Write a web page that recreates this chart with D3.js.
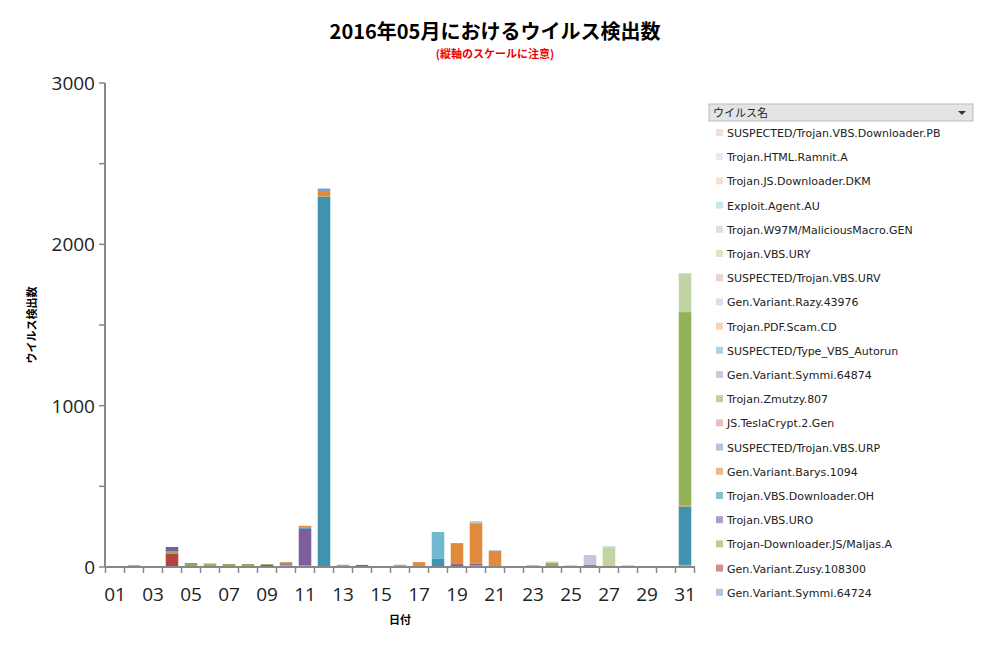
<!DOCTYPE html><html><head><meta charset="utf-8"><script src="https://cdn.jsdelivr.net/npm/d3@7"></script>
<style>body{margin:0;background:#fff;font-family:"Noto Sans CJK JP","DejaVu Sans",sans-serif}</style></head><body><svg id="c" width="987" height="648"></svg>
<script>
const days=["01","02","03","04","05","06","07","08","09","10","11","12","13","14","15","16","17","18","19","20","21","22","23","24","25","26","27","28","29","30","31"];
const dayLabels=["01","03","05","07","09","11","13","15","17","19","21","23","25","27","29","31"];
const yTicks=[0,1000,2000,3000];
// series in stacking order (bottom first)
const seriesNames=["Gen.Variant.Symmi.64724","Gen.Variant.Zusy.108300","Trojan-Downloader.JS/Maljas.A","Trojan.VBS.URO","Trojan.VBS.Downloader.OH","Gen.Variant.Barys.1094","SUSPECTED/Trojan.VBS.URP","JS.TeslaCrypt.2.Gen","Trojan.Zmutzy.807","Gen.Variant.Symmi.64874","SUSPECTED/Type_VBS_Autorun","Trojan.PDF.Scam.CD","Gen.Variant.Razy.43976","SUSPECTED/Trojan.VBS.URV","Trojan.VBS.URY","Trojan.W97M/MaliciousMacro.GEN","Exploit.Agent.AU","Trojan.JS.Downloader.DKM","Trojan.HTML.Ramnit.A","SUSPECTED/Trojan.VBS.Downloader.PB"];
const seriesColors=["#7f9cc4","#b5423f","#8fae52","#7b5e9a","#3f93ae","#e08a3e","#7f9cc4","#d99391","#93b257","#b1a2c6","#72b8d0","#f2b58c","#bccbe0","#e3b3b2","#c3d4a4","#cbc3d9","#a6d3df","#f6c9ab","#d3dcea","#ecc6c6"];
const s_Symmi64724=[0,0,0,6,0,0,0,0,0,0,0,0,0,5,0,8,0,0,0,0,0,0,5,0,0,0,0,0,0,0,0];
const s_Zusy=[0,0,0,75,0,5,0,0,13,8,6,6,0,0,0,0,6,0,6,6,0,0,0,6,0,6,0,0,0,0,8];
const s_Maljas=[0,5,5,18,19,12,19,19,5,6,6,0,12,0,0,6,6,5,0,5,0,0,5,12,0,0,6,6,0,5,5];
const s_URO=[0,0,0,25,0,0,0,0,0,5,225,0,0,8,0,0,0,0,12,10,0,0,0,5,0,0,0,0,0,0,0];
const s_OH=[0,0,0,0,5,0,0,0,0,5,8,2290,0,0,0,0,0,45,0,0,0,0,0,0,8,6,0,0,0,0,362];
const s_Barys=[0,6,0,0,0,5,0,0,0,6,10,35,0,0,0,0,18,0,130,250,99,0,0,0,0,0,0,0,0,0,5];
const s_URP=[0,0,0,0,0,0,0,0,0,0,0,15,0,0,0,0,0,0,0,0,0,0,0,0,0,0,0,0,0,0,0];
const s_Tesla=new Array(31).fill(0);
const s_Zmutzy=[0,0,0,0,0,0,0,0,0,0,0,0,0,0,0,0,0,0,0,0,0,0,0,0,0,0,0,0,0,0,1200];
const s_Symmi64874=[0,0,0,0,0,0,0,0,0,0,0,0,0,0,0,0,0,0,0,6,0,0,0,0,0,0,0,0,0,0,0];
const s_Autorun=[0,0,0,0,0,0,0,0,0,0,0,0,0,0,0,0,0,167,0,0,0,5,0,0,0,0,0,0,0,0,0];
const s_PDF=[0,0,0,0,0,0,0,0,0,0,0,0,0,0,0,0,0,0,0,0,0,0,0,0,0,0,0,5,0,0,0];
const s_Razy=[0,0,0,0,0,0,0,0,0,0,0,0,0,0,0,0,0,0,0,0,6,0,0,0,0,0,0,0,0,0,0];
const s_URV=new Array(31).fill(0);
const s_URY=[0,0,0,0,0,0,0,0,0,0,0,0,3,0,0,0,0,0,0,8,0,0,0,10,0,0,115,0,0,0,240];
const s_W97M=[0,0,0,0,0,0,0,0,0,0,0,0,0,0,0,0,0,0,0,0,0,0,0,0,0,62,0,0,0,0,0];
const s_Exploit=[0,0,0,0,0,0,0,0,0,0,0,0,0,0,0,0,0,0,0,0,0,0,0,0,0,0,7,0,0,0,0];
const s_DKM=[0,0,0,0,0,0,0,0,0,0,0,0,0,0,0,0,0,0,0,0,0,0,0,0,3,0,0,0,0,0,0];
const s_Ramnit=[0,0,0,0,0,0,0,0,0,0,0,0,0,0,0,0,0,0,0,0,0,0,0,0,0,0,0,0,5,0,0];
const s_PB=new Array(31).fill(0);
const seriesValues=[s_Symmi64724,s_Zusy,s_Maljas,s_URO,s_OH,s_Barys,s_URP,s_Tesla,s_Zmutzy,s_Symmi64874,s_Autorun,s_PDF,s_Razy,s_URV,s_URY,s_W97M,s_Exploit,s_DKM,s_Ramnit,s_PB];

const svg=d3.select("#c");
const rows=days.map((d,i)=>{const o={day:d};seriesNames.forEach((n,k)=>o[n]=seriesValues[k][i]);return o;});
const stack=d3.stack().keys(seriesNames)(rows);
const x=d3.scaleBand().domain(days).range([105.5,694.5]).paddingInner(0.34).paddingOuter(0.17);
const y=d3.scaleLinear().domain([0,3000]).range([567,83]);
svg.append("g").selectAll("g").data(stack).join("g").attr("fill",(d,i)=>seriesColors[i])
 .selectAll("rect").data(d=>d).join("rect")
 .attr("x",d=>x(d.data.day)).attr("width",x.bandwidth())
 .attr("y",d=>y(d[1])).attr("height",d=>y(d[0])-y(d[1]));
const ya=svg.append("g").attr("transform","translate(105,0)");
ya.append("line").attr("y1",83).attr("y2",567).attr("stroke","#888").attr("stroke-width",2);
ya.selectAll(".mt").data(d3.range(0,3001,500)).join("line").attr("x1",-6).attr("x2",0).attr("y1",d=>y(d)).attr("y2",d=>y(d)).attr("stroke","#888").attr("stroke-width",1.5);
ya.selectAll("text").data(yTicks).join("text").attr("x",-10).attr("y",d=>y(d)+7).attr("text-anchor","end").attr("font-size",19).attr("font-family","Open Sans, sans-serif").attr("fill","#222").text(d=>d);
const xa=svg.append("g");
xa.append("line").attr("x1",105).attr("x2",695).attr("y1",567).attr("y2",567).attr("stroke","#888").attr("stroke-width",2);
xa.selectAll(".t").data(d3.range(32)).join("line").attr("x1",i=>105.5+i*x.step()).attr("x2",i=>105.5+i*x.step()).attr("y1",567).attr("y2",573).attr("stroke","#888").attr("stroke-width",1.5);
xa.selectAll("text").data(dayLabels).join("text").attr("x",d=>x(d)+x.bandwidth()/2).attr("y",601).attr("text-anchor","middle").attr("font-size",19).attr("font-family","Open Sans, sans-serif").attr("fill","#222").text(d=>d);
svg.append("text").attr("x",495).attr("y",39).attr("text-anchor","middle").attr("font-size",20).attr("font-weight","bold").text("2016年05月におけるウイルス検出数");
svg.append("text").attr("x",495).attr("y",58).attr("text-anchor","middle").attr("font-size",11).attr("font-weight","bold").attr("fill","#e00").text("(縦軸のスケールに注意)");
svg.append("text").attr("transform","translate(36,325) rotate(-90)").attr("text-anchor","middle").attr("font-size",11).attr("font-weight","bold").text("ウイルス検出数");
svg.append("text").attr("x",400).attr("y",624).attr("text-anchor","middle").attr("font-size",11).attr("font-weight","bold").text("日付");
const lg=svg.append("g");
lg.append("rect").attr("x",709).attr("y",104).attr("width",264).attr("height",17).attr("fill","#e4e4e4").attr("stroke","#bbb");
lg.append("text").attr("x",713).attr("y",117).attr("font-size",11).attr("fill","#222").text("ウイルス名");
lg.append("path").attr("d","M958,111 l8,0 l-4,4 z").attr("fill","#333");
const order=seriesNames.map((n,i)=>i).reverse();
lg.selectAll(".it").data(order).join("g").attr("transform",(d,j)=>`translate(716,${134+j*24.2})`).each(function(i){
 const g=d3.select(this);
 g.append("rect").attr("x",0).attr("y",-5).attr("width",7).attr("height",7).attr("fill",seriesColors[i]).attr("opacity",0.6);
 g.append("text").attr("x",11).attr("y",3).attr("font-size",11).attr("font-family","DejaVu Sans, sans-serif").attr("fill","#222").text(seriesNames[i]);
});
</script></body></html>
